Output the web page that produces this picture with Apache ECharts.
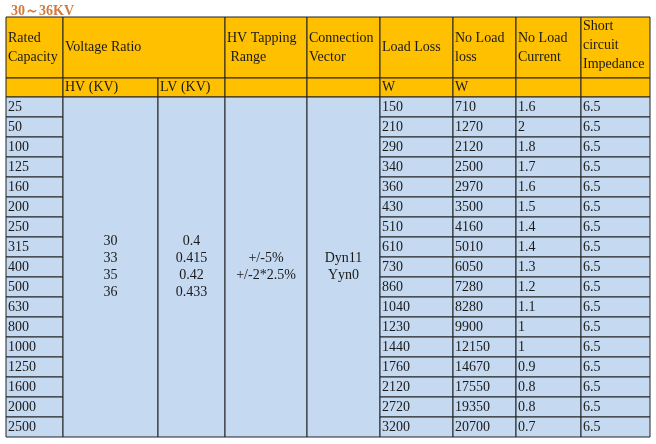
<!DOCTYPE html><html><head><meta charset="utf-8">
<script src="https://cdn.jsdelivr.net/npm/echarts@6/dist/echarts.min.js"></script>
<style>html,body{margin:0;padding:0;background:#fff}#c{width:656px;height:444px}</style></head>
<body><div id="c"></div><script>
const title = "30～36KV";
const headers = ["Rated\nCapacity","Voltage Ratio","HV Tapping\n Range","Connection\nVector","Load Loss","No Load\nloss","No Load\nCurrent","Short\ncircuit\nImpedance"];
const units = ["","HV (KV)","LV (KV)","","","W","W","",""];
const capacity = [25,50,100,125,160,200,250,315,400,500,630,800,1000,1250,1600,2000,2500];
const loadLoss = [150,210,290,340,360,430,510,610,730,860,1040,1230,1440,1760,2120,2720,3200];
const noLoadLoss = [710,1270,2120,2500,2970,3500,4160,5010,6050,7280,8280,9900,12150,14670,17550,19350,20700];
const noLoadCurrent = ["1.6","2","1.8","1.7","1.6","1.5","1.4","1.4","1.3","1.2","1.1","1","1","0.9","0.8","0.8","0.7"];
const impedance = Array(17).fill("6.5");
const hvValues = ["30","33","35","36"];
const lvValues = ["0.4","0.415","0.42","0.433"];
const tapping = ["+/-5%","+/-2*2.5%"];
const vector = ["Dyn11","Yyn0"];

// layout (pixel grid)
const colEdges = [6,63,158,225,307,380,453,516,581,650];
const rowEdges = [17,78,97];
for (let i=1;i<=17;i++) rowEdges.push(97+20*i);
const ORANGE="#ffc000", BLUE="#c5d9f1";

const cells=[];
function add(c0,c1,r0,r1,text,fill,align,va,lh){cells.push({value:[c0,c1,r0,r1],text,fill,align,va,lh});}
add(0,1,0,1,headers[0],ORANGE,'left','middle',19);
add(1,3,0,1,headers[1],ORANGE,'left','middle',19);
for(let k=2;k<8;k++) add(k+1,k+2,0,1,headers[k],ORANGE,'left',k===7?'top':'middle',19);
units.forEach((u,i)=>add(i,i+1,1,2,u,ORANGE,'left','middle',16));
capacity.forEach((v,i)=>add(0,1,i+2,i+3,String(v),BLUE,'left','middle',16));
add(1,2,2,19,hvValues.join("\n"),BLUE,'center','middle',17);
add(2,3,2,19,lvValues.join("\n"),BLUE,'center','middle',17);
add(3,4,2,19,tapping.join("\n"),BLUE,'center','middle',17);
add(4,5,2,19,vector.join("\n"),BLUE,'center','middle',17);
[loadLoss,noLoadLoss,noLoadCurrent,impedance].forEach((arr,j)=>arr.forEach((v,i)=>add(5+j,6+j,i+2,i+3,String(v),BLUE,'left','middle',16)));

const chart=echarts.init(document.getElementById('c'));
chart.setOption({
  animation:false,
  title:{text:title,left:6,top:-1,textStyle:{fontFamily:'Liberation Serif',fontSize:14,fontWeight:'bold',color:'#d07a3c'}},
  grid:{left:0,right:0,top:0,bottom:0},
  xAxis:{type:'value',min:0,max:656,show:false},
  yAxis:{type:'value',min:0,max:444,inverse:true,show:false},
  series:[{type:'custom',data:cells.map(c=>({value:c.value})),
    renderItem:(params,api)=>{
      const c=cells[params.dataIndex];
      const [c0,c1,r0,r1]=c.value;
      const p0=api.coord([colEdges[c0],rowEdges[r0]]);
      const p1=api.coord([colEdges[c1],rowEdges[r1]]);
      const w=p1[0]-p0[0],h=p1[1]-p0[1];
      const center=c.align==='center';
      return {type:'group',children:[
        {type:'rect',shape:{x:p0[0],y:p0[1],width:w,height:h},style:{fill:c.fill,stroke:'#222',lineWidth:1}},
        {type:'text',x:center?p0[0]+w/2:p0[0]+2,y:c.va==='top'?p0[1]:p0[1]+h/2,
          style:{text:c.text,fill:'#1a1a1a',font:'14px "Liberation Serif"',align:c.align,verticalAlign:c.va,lineHeight:c.lh}}
      ]};
    }}]
});
</script></body></html>
